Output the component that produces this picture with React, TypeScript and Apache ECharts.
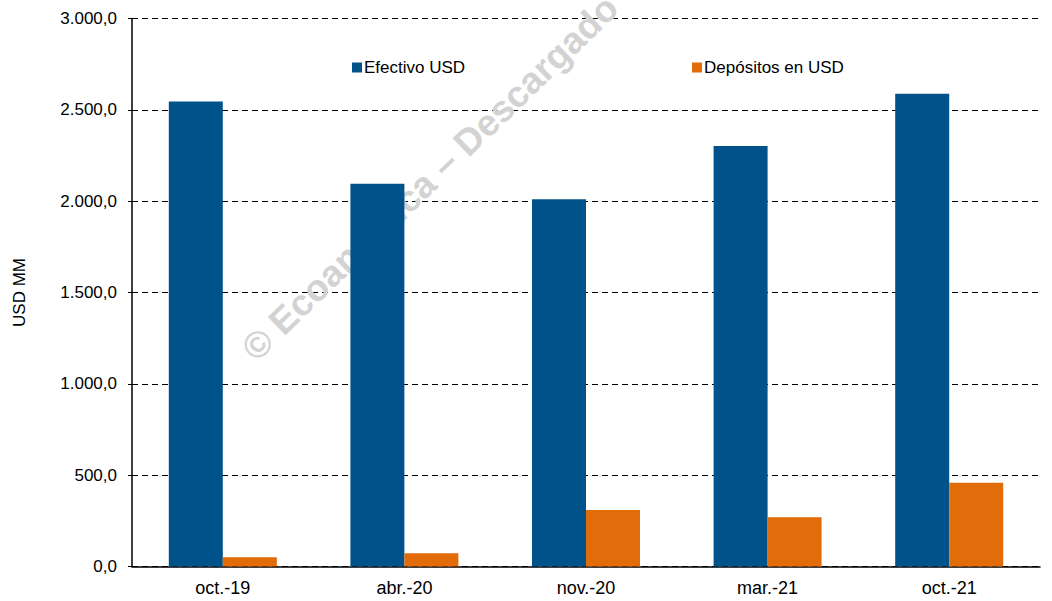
import React, { useEffect, useRef } from "react";
import * as echarts from "echarts";

const categories = ["oct.-19", "abr.-20", "nov.-20", "mar.-21", "oct.-21"];
const efectivoUSD = [2545, 2095, 2010, 2302, 2588];
const depositosUSD = [50, 72, 309, 269, 459];
const seriesNames = ["Efectivo USD", "Depósitos en USD"];
const watermarkText = "© Ecoanalítica – Descargado";

const FONT = "'Liberation Sans', Arial, sans-serif";

function fmt(v: number): string {
  const s = Math.round(v).toString();
  const withDots = s.replace(/\B(?=(\d{3})+(?!\d))/g, ".");
  return withDots + ",0";
}

export default function App() {
  const ref = useRef<HTMLDivElement>(null);
  useEffect(() => {
    if (!ref.current) return;
    const chart = echarts.init(ref.current, null, { renderer: "svg" });
    chart.setOption({
      animation: false,
      backgroundColor: "#ffffff",
      textStyle: { fontFamily: FONT },
      grid: { left: 132, right: 12, top: 18.5, bottom: 34.5, containLabel: false },
      legend: [
        {
          data: [seriesNames[0]],
          left: 347,
          top: 54,
          itemWidth: 10,
          itemHeight: 10,
          icon: "rect",
          textStyle: { fontSize: 17, color: "#000", fontFamily: FONT, padding: [0, 0, 0, -3] },
        },
        {
          data: [seriesNames[1]],
          left: 687,
          top: 54,
          itemWidth: 10,
          itemHeight: 10,
          icon: "rect",
          textStyle: { fontSize: 17, color: "#000", fontFamily: FONT, padding: [0, 0, 0, -3] },
        },
      ],
      graphic: [
        {
          type: "text",
          x: 248,
          y: 354,
          rotation: (44 * Math.PI) / 180,
          z: 1,
          silent: true,
          style: {
            text: watermarkText,
            fontSize: 37,
            fontWeight: "bold",
            fontFamily: FONT,
            fill: "#d3d3d3",
            textAlign: "left",
            textVerticalAlign: "middle",
          },
        },
      ],
      xAxis: {
        type: "category",
        data: categories,
        axisLine: { show: true, lineStyle: { color: "#000", width: 1.5 } },
        axisTick: { show: false },
        axisLabel: { fontSize: 18, color: "#000", margin: 12, fontFamily: FONT },
      },
      yAxis: {
        type: "value",
        min: 0,
        max: 3000,
        interval: 500,
        name: "USD MM",
        nameLocation: "middle",
        nameRotate: 90,
        nameGap: 104,
        nameTextStyle: { fontSize: 17, color: "#000", fontFamily: FONT },
        axisLine: { show: true, lineStyle: { color: "#000", width: 1.5 } },
        axisTick: { show: true, length: 4, lineStyle: { color: "#000" } },
        axisLabel: {
          fontSize: 17,
          color: "#000",
          margin: 15,
          fontFamily: FONT,
          formatter: (v: number) => fmt(v),
        },
        splitLine: {
          show: true,
          lineStyle: { color: "#000", type: [6, 4], width: 1 },
        },
      },
      series: [
        {
          name: seriesNames[0],
          type: "bar",
          data: efectivoUSD,
          barWidth: 54,
          barGap: "0%",
          itemStyle: { color: "#00538A" },
          z: 2,
        },
        {
          name: seriesNames[1],
          type: "bar",
          data: depositosUSD,
          barWidth: 54,
          barGap: "0%",
          itemStyle: { color: "#E36C0A" },
          z: 2,
        },
      ],
    });
    return () => chart.dispose();
  }, []);
  return (
    <div
      ref={ref}
      style={{ position: "fixed", left: 0, top: 0, width: 1052, height: 601 }}
    />
  );
}
